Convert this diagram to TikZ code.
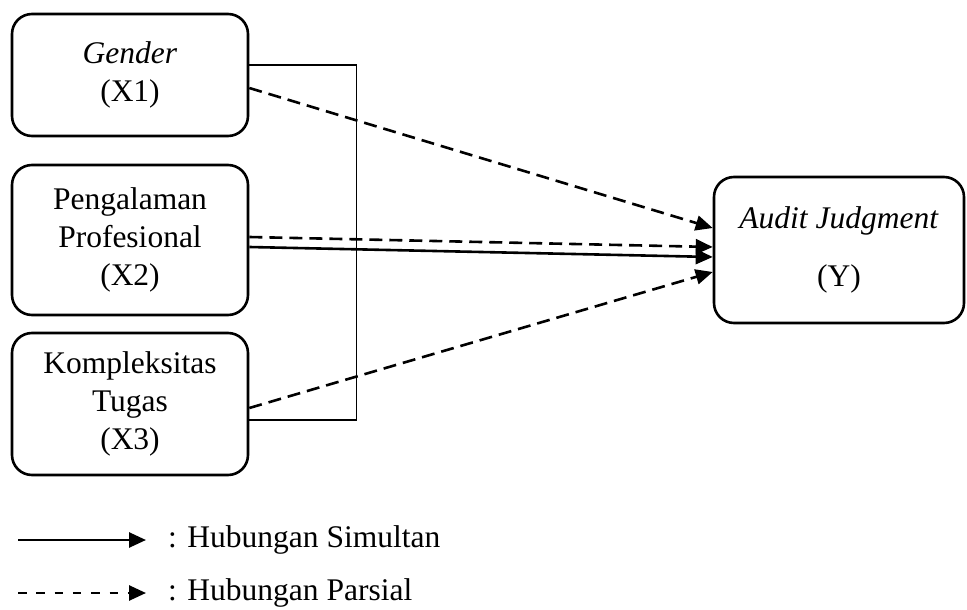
\documentclass[tikz,border=0pt]{standalone}
\usepackage{fontspec}
\setmainfont{Liberation Serif}
\usetikzlibrary{arrows.meta}

\tikzset{
    varbox/.style={draw, line width=2.6pt, rounded corners=20pt, align=center,
        minimum width=236pt, inner sep=0pt},
    partial/.style={line width=2.6pt, dash pattern=on 13pt off 7pt,
        -{Triangle[length=17pt, width=15pt]}},
    simul/.style={line width=2.6pt, -{Triangle[length=17pt, width=15pt]}},
    legtext/.style={anchor=west, inner xsep=22pt, inner ysep=0pt}
}

\begin{document}
\begin{tikzpicture}[x=1pt, y=-1pt]
    \fontsize{31.5}{38}\selectfont
    \useasboundingbox (0,0) rectangle (967,610);

    % variables
    \node[varbox, minimum height=122pt] (x1) at (130,75) {\textit{Gender}\\(X1)};
    \node[varbox, minimum height=150pt] (x2) at (130,240) {Pengalaman\\Profesional\\(X2)};
    \node[varbox, minimum height=142pt] (x3) at (130,404) {Kompleksitas\\Tugas\\(X3)};
    \node[varbox, minimum width=250pt, minimum height=146pt] (y) at (839,250)
        {\textit{Audit Judgment}\\[20pt](Y)};

    % bracket joining X1 and X3
    \draw[line width=1.2pt] ([yshift=10pt]x1.east) -| ([xshift=107pt, yshift=-16pt]x3.east)
        -- ([yshift=-16pt]x3.east);

    % partial and simultaneous arrows
    \draw[partial] ([yshift=-13pt]x1.east) -- ([yshift=22pt]y.west);
    \draw[partial] ([yshift=3pt]x2.east) -- ([yshift=3pt]y.west);
    \draw[simul] ([yshift=-7pt]x2.east) -- ([yshift=-7pt]y.west);
    \draw[partial] ([yshift=-4pt]x3.east) -- ([yshift=-22pt]y.west);

    % legend
    \node[legtext] (legsim) at (146,540) {: Hubungan Simultan};
    \node[legtext] (legpar) at (146,593) {: Hubungan Parsial};
    \coordinate (simstart) at (18,540);
    \coordinate (parstart) at (18,593);
    \draw[simul] (simstart) -- (legsim.west);
    \draw[partial, dash pattern=on 8.5pt off 9.8pt] (parstart) -- (legpar.west);
\end{tikzpicture}
\end{document}
